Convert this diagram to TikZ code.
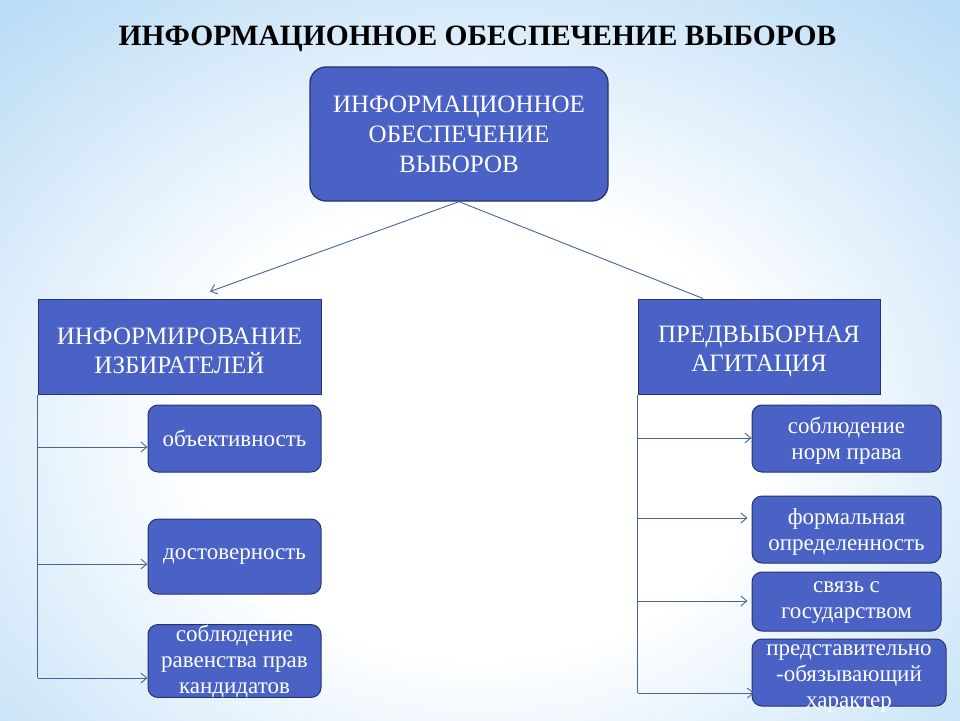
\documentclass[tikz,border=0pt]{standalone}
\usepackage{fontspec}
\setmainfont{Liberation Serif}
\usetikzlibrary{arrows.meta,calc}
\definecolor{bgblue}{RGB}{128,190,237}
\definecolor{boxfill}{RGB}{74,98,197}
\definecolor{boxline}{RGB}{38,51,110}
\definecolor{linkcol}{RGB}{70,100,158}
\pgfdeclareradialshading{glow}{\pgfpoint{0bp}{0bp}}{color(0bp)=(white); color(10bp)=(white); color(22bp)=(bgblue!45!white); color(36bp)=(bgblue!90!white); color(50bp)=(bgblue)}
\tikzset{
  topbox/.style={draw=boxline, line width=1.3pt, fill=boxfill, rounded corners=16pt, text=white, align=center, font=\fontsize{25}{30}\selectfont, inner sep=0pt},
  headbox/.style={draw=boxline, line width=1pt, fill=boxfill, inner sep=0pt},
  headtext/.style={text=white, align=center, font=\fontsize{25}{29}\selectfont, inner sep=0pt},
  itembox/.style={draw=boxline, line width=1pt, fill=boxfill, rounded corners=10pt, text=white, align=center, font=\fontsize{23}{26}\selectfont, inner sep=0pt},
  itemtext/.style={text=white, align=center, font=\fontsize{23}{26}\selectfont, inner sep=0pt},
  link/.style={draw=linkcol, line width=0.9pt},
  arr/.style={link, -{Straight Barb[length=6pt,width=10pt]}},
  titlestyle/.style={font=\fontsize{29.5}{36}\selectfont\bfseries, text=black, inner sep=0pt}
}
\begin{document}
\begin{tikzpicture}[x=1pt,y=-1pt]
\useasboundingbox (0,0) rectangle (960,720);
\fill[bgblue] (0,0) rectangle (960,720);
\begin{scope}
  \clip (0,0) rectangle (960,720);
  \shade[shading=glow] (-240,-140) rectangle (1200,1000);
\end{scope}

\node[titlestyle] (title) at (477.5,39) {ИНФОРМАЦИОННОЕ ОБЕСПЕЧЕНИЕ ВЫБОРОВ};

\node[topbox, minimum width=298pt, minimum height=134pt] (top) at (459,134) {ИНФОРМАЦИОННОЕ\\ОБЕСПЕЧЕНИЕ\\ВЫБОРОВ};

\node[headbox, minimum width=283pt, minimum height=95pt] (inf) at (179.5,346.5) {};
\node[headtext] (inftext) at (179.5,351) {ИНФОРМИРОВАНИЕ\\ИЗБИРАТЕЛЕЙ};
\node[headbox, minimum width=242pt, minimum height=95pt] (agit) at (759,346.5) {};
\node[headtext] (agittext) at (759,351) {ПРЕДВЫБОРНАЯ\\АГИТАЦИЯ};

\node[itembox, minimum width=173pt, minimum height=67pt] (l1) at (234.5,438.5) {объективность};
\node[itembox, minimum width=173pt, minimum height=75pt] (l2) at (234.5,556.5) {достоверность};
\node[itembox, minimum width=173pt, minimum height=68pt] (l3) at (234.5,661) {соблюдение\\равенства прав\\кандидатов};

\node[itembox, minimum width=189pt, minimum height=67pt] (r1) at (846.5,438.5) {};
\node[itemtext] (r1text) at (846.5,441) {соблюдение\\норм права};
\node[itembox, minimum width=189pt, minimum height=67pt] (r2) at (846.5,529.5) {};
\node[itemtext] (r2text) at (846.5,532) {формальная\\определенность};
\node[itembox, minimum width=189pt, minimum height=59pt] (r3) at (846.5,601.5) {};
\node[itemtext] (r3text) at (846.5,603) {связь с\\государством};
\node[itembox, minimum width=194pt, minimum height=67pt] (r4) at (849,672.5) {};
\node[itemtext] (r4text) at (849,679) {представительно\\-обязывающий\\характер};

% top connectors
\draw[arr] (top.south) -- ($(inf.north)+(30.5,-7)$);
\draw[link] (top.south) -- ($(agit.north)+(-56,0)$);

% left branch
\draw[link] (inf.south west) -- (inf.south west |- 0,678);
\draw[arr] (inf.south west |- 0,447) -- (l1.west |- 0,447);
\draw[arr] (inf.south west |- 0,564) -- (l2.west |- 0,564);
\draw[arr] (inf.south west |- 0,678) -- (l3.west |- 0,678);

% right branch
\draw[link] (agit.south west) -- (agit.south west |- 0,693);
\draw[arr] (agit.south west |- 0,438) -- (r1.west |- 0,438);
\draw[arr] (agit.south west |- 0,518) -- ($(r2.west |- 0,518)+(-4,0)$);
\draw[arr] (agit.south west |- 0,601) -- ($(r3.west |- 0,601)+(-4,0)$);
\draw[arr] (agit.south west |- 0,693) -- ($(r4.west |- 0,693)+(2.5,0)$);
\end{tikzpicture}
\end{document}
